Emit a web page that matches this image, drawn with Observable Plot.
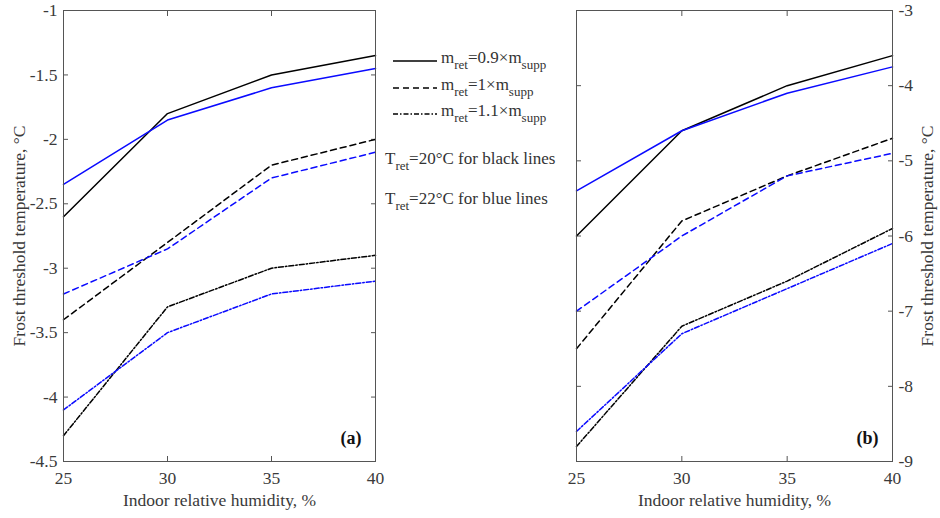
<!DOCTYPE html>
<html><head><meta charset="utf-8">
<script src="https://cdn.jsdelivr.net/npm/d3@7"></script>
<script src="https://cdn.jsdelivr.net/npm/@observablehq/plot@0.6"></script>
<style>
body{margin:0;background:#fff;font-family:"Liberation Serif",serif;}
#wrap{position:relative;width:940px;height:518px;overflow:hidden;}
.panel{position:absolute;top:0;overflow:visible;}
.leg{position:absolute;color:#333;font-size:17px;white-space:nowrap;line-height:1;}
.leg sub{font-size:13px;vertical-align:-6px;}
#legsvg{position:absolute;left:0;top:0;}
</style></head><body>
<div id="wrap">
  <svg id="legsvg" width="940" height="518"></svg>
</div>
<script>
// ---- data ----
const humidity = [25, 30, 35, 40];
const xTicks = [25, 30, 35, 40];
const ticksA = [-4.5, -4, -3.5, -3, -2.5, -2, -1.5, -1];
const ticksB = [-9, -8, -7, -6, -5, -4, -3];
const massRatios = ["0.9", "1", "1.1"];
const retTemps = ["20", "22"];
// panel (a)
const a_T20_m09 = [-2.6, -1.8, -1.5, -1.35];
const a_T22_m09 = [-2.35, -1.85, -1.6, -1.45];
const a_T20_m10 = [-3.4, -2.8, -2.2, -2.0];
const a_T22_m10 = [-3.2, -2.85, -2.3, -2.1];
const a_T20_m11 = [-4.3, -3.3, -3.0, -2.9];
const a_T22_m11 = [-4.1, -3.5, -3.2, -3.1];
// panel (b)
const b_T20_m09 = [-6.0, -4.6, -4.0, -3.6];
const b_T22_m09 = [-5.4, -4.6, -4.1, -3.75];
const b_T20_m10 = [-7.5, -5.8, -5.2, -4.7];
const b_T22_m10 = [-7.0, -6.0, -5.2, -4.9];
const b_T20_m11 = [-8.8, -7.2, -6.6, -5.9];
const b_T22_m11 = [-8.6, -7.3, -6.7, -6.1];

const seriesA = [
  {T: "20", m: "0.9", v: a_T20_m09}, {T: "22", m: "0.9", v: a_T22_m09},
  {T: "20", m: "1", v: a_T20_m10}, {T: "22", m: "1", v: a_T22_m10},
  {T: "20", m: "1.1", v: a_T20_m11}, {T: "22", m: "1.1", v: a_T22_m11}
];
const seriesB = [
  {T: "20", m: "0.9", v: b_T20_m09}, {T: "22", m: "0.9", v: b_T22_m09},
  {T: "20", m: "1", v: b_T20_m10}, {T: "22", m: "1", v: b_T22_m10},
  {T: "20", m: "1.1", v: b_T20_m11}, {T: "22", m: "1.1", v: b_T22_m11}
];

// ---- styles ----
const colorOf = {"20": "#000000", "22": "#0a0aff"};
const dashOf = {"0.9": null, "1": "6,4", "1.1": "5,2,1.5,2"};
const textColor = "#3a3a3a";
const serif = "Liberation Serif";

function toRows(series) {
  return series.map(s => s.v.map((y, i) => ({x: humidity[i], y, T: s.T, m: s.m})));
}

function panel({series, yDomain, yTicks, side, ml, mr, tag, yLabelOffset}) {
  const other = side === "left" ? "right" : "left";
  const lines = toRows(series).map(rows => Plot.line(rows, {
    x: "x", y: "y", stroke: colorOf[rows[0].T], strokeWidth: 1.5,
    strokeDasharray: dashOf[rows[0].m]
  }));
  const svg = Plot.plot({
    width: 400, height: 518,
    marginLeft: ml, marginRight: mr, marginTop: 10, marginBottom: 57,
    style: {fontSize: "17px", color: textColor, background: "transparent"},
    x: {domain: [25, 40]},
    y: {domain: yDomain},
    marks: [
      Plot.axisX({ticks: xTicks, tickSize: -5, tickPadding: 15, tickFormat: d => String(d),
        label: "Indoor relative humidity, %", labelAnchor: "center", labelArrow: "none", labelOffset: 44,
        stroke: "#555", fontSize: 17.5, fontFamily: serif}),
      Plot.axisX({anchor: "top", ticks: xTicks, tickSize: -5, tickFormat: () => "", label: null, stroke: "#555"}),
      Plot.axisY({anchor: side, ticks: yTicks, tickSize: -5, tickPadding: 11, tickFormat: d => String(d),
        label: "Frost threshold temperature, °C", labelAnchor: "center", labelArrow: "none", labelOffset: yLabelOffset,
        stroke: "#555", fontSize: 17.5, fontFamily: serif}),
      Plot.axisY({anchor: other, ticks: yTicks, tickSize: -5, tickFormat: () => "", label: null, stroke: "#555"}),
      ...lines,
      Plot.frame({stroke: "#555", strokeWidth: 1}),
      Plot.text([tag], {text: d => d, frameAnchor: "bottom-right", dx: -14, dy: -18,
        fontWeight: "bold", fontSize: 18, fill: "#111", fontFamily: serif})
    ]
  });
  svg.setAttribute("font-family", serif);
  svg.style.fontFamily = serif;
  d3.select(svg).selectAll("g, text").attr("font-family", serif).style("font-family", serif);
  return svg;
}

const wrap = document.getElementById("wrap");
const pA = panel({series: seriesA, yDomain: [-4.5, -1], yTicks: ticksA, side: "left", ml: 63, mr: 25, tag: "(a)", yLabelOffset: 51});
pA.classList.add("panel"); pA.style.left = "0px";
const pB = panel({series: seriesB, yDomain: [-9, -3], yTicks: ticksB, side: "right", ml: 36, mr: 48, tag: "(b)", yLabelOffset: 40});
pB.classList.add("panel"); pB.style.left = "540px";
wrap.appendChild(pA); wrap.appendChild(pB);

// ---- legend ----
const legSvg = d3.select("#legsvg");
const legRows = [61, 88, 114];
massRatios.forEach((m, i) => {
  legSvg.append("line").attr("x1", 393).attr("x2", 437).attr("y1", legRows[i]).attr("y2", legRows[i])
    .attr("stroke", "#000").attr("stroke-width", 1.5)
    .attr("stroke-dasharray", dashOf[m]);
  const div = document.createElement("div");
  div.className = "leg";
  div.style.left = "441px";
  div.style.top = (legRows[i] - 12) + "px";
  div.innerHTML = `m<sub>ret</sub>=${m}×m<sub>supp</sub>`;
  wrap.appendChild(div);
});
const tRows = [150, 190];
const tColors = {"20": "black", "22": "blue"};
retTemps.forEach((t, i) => {
  const div = document.createElement("div");
  div.className = "leg";
  div.style.left = "385px";
  div.style.top = tRows[i] + "px";
  div.innerHTML = `T<sub>ret</sub>=${t}°C for ${tColors[t]} lines`;
  wrap.appendChild(div);
});
</script>
</body></html>
